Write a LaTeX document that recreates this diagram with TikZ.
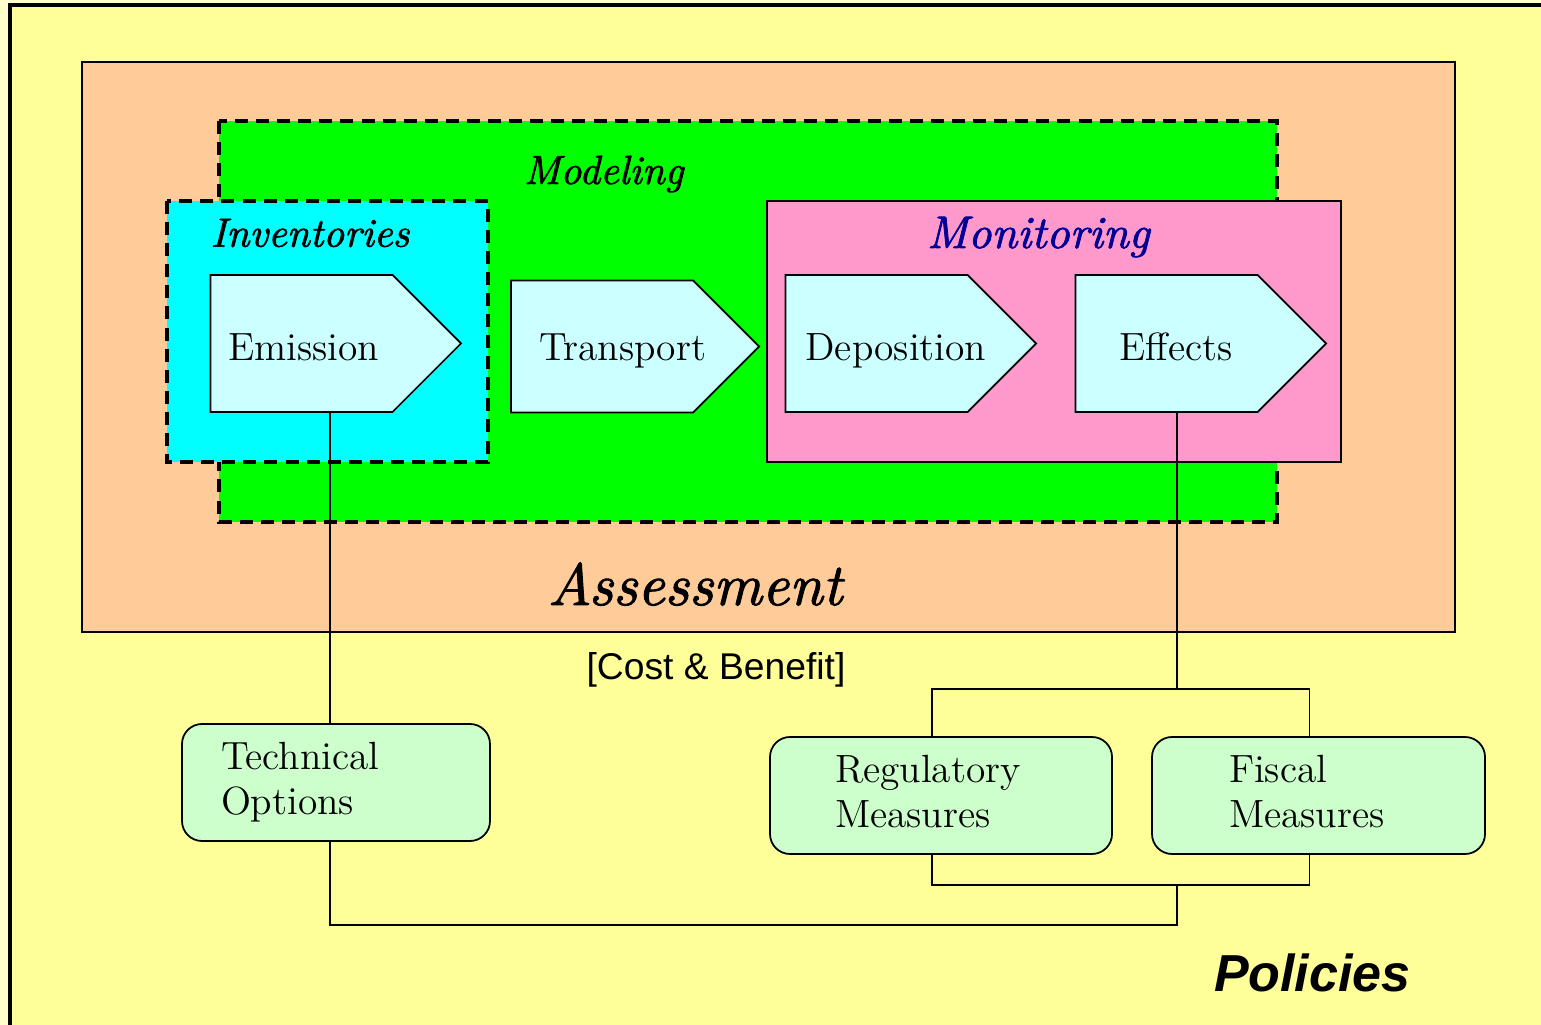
\documentclass[tikz,border=0pt]{standalone}
\usepackage{fontspec}
\newfontfamily\arialfont{Liberation Sans}
\newfontface\titleface{lmroman10-italic.otf}[FakeBold=1.6]
\usetikzlibrary{shapes.symbols,positioning}

\definecolor{paleyellow}{HTML}{FFFFCC}
\definecolor{policyyellow}{HTML}{FFFF99}
\definecolor{assesspeach}{HTML}{FFCC99}
\definecolor{modelgreen}{HTML}{00FF00}
\definecolor{inventcyan}{HTML}{00FFFF}
\definecolor{monitorpink}{HTML}{FF99CC}
\definecolor{stagefill}{HTML}{CCFFFF}
\definecolor{policyfill}{HTML}{CCFFCC}
\definecolor{darkblue}{HTML}{000099}

\begin{document}
\begin{tikzpicture}[x=0.1mm,y=-0.1mm,
    stage/.style={shape=signal, signal to=east, signal pointer angle=90, draw, line width=0.5pt,
        fill=stagefill, text width=1.82cm, inner xsep=0pt, inner ysep=0pt, minimum height=1.37cm,
        align=left, text height=3.9mm, text depth=0.5mm, font=\fontsize{11.2}{13}\selectfont},
    policy/.style={draw, line width=0.5pt, fill=policyfill, rounded corners=2mm, minimum height=1.17cm,
        inner ysep=0pt, align=left, font=\fontsize{11.2}{12.8}\selectfont},
    region/.style={draw, line width=0.5pt},
    dashedregion/.style={draw, line width=1.3pt, dash pattern=on 3.7pt off 2.3pt},
    title/.style={anchor=base, font=\titleface\fontsize{11.6}{14}\selectfont},
    link/.style={draw, line width=0.45pt}]
    \useasboundingbox (0,0) rectangle (1541,1025);
    \clip (0,0) rectangle (1541,1025);
    \fill[paleyellow] (0,0) rectangle (1541,1025);
    % containers
    \draw[fill=policyyellow, line width=1pt] (10,5) rectangle (1570,1050);
    \draw[region, fill=assesspeach] (82,62) rectangle (1455,632);
    \draw[dashedregion, fill=modelgreen] (219,121) rectangle (1277,522);
    \draw[dashedregion, fill=inventcyan] (167,201) rectangle (488,462);
    \draw[region, fill=monitorpink] (767,201) rectangle (1341,462);
    % titles
    \node[title] (modeling) at (603.7,184) {Modeling};
    \node[title] (inventories) at (310,246.7) {Inventories};
    \node[title, text=darkblue, font=\titleface\fontsize{13}{15}\selectfont] (monitoring) at (1038.4,248) {Monitoring};
    \node[title, font=\titleface\fontsize{16.9}{20}\selectfont] (assessment) at (695,605) {Assessment};
    \node[anchor=base, font=\arialfont\fontsize{10.6}{12}\selectfont] (costbenefit) at (716,680) {[Cost \& Benefit]};
    \node[anchor=base, font=\arialfont\bfseries\itshape\fontsize{14.8}{17}\selectfont] (policies) at (1312.3,991.7) {Policies};
    % stages
    \node[stage] (emission) at (301.5,343.5) {\hspace*{1.8mm}\mbox{Emission}};
    \node[stage, minimum height=1.32cm, text depth=1.1mm] (transport) at (602,346.5) {\hspace*{2.8mm}\mbox{Transport}};
    \node[stage] (deposition) at (876.5,343.5) {\hspace*{2mm}\mbox{Deposition}};
    \node[stage] (effects) at (1166.5,343.5) {\hspace*{4.4mm}\mbox{Effects}};
    % policies
    \node[policy, text width=2.3cm, inner xsep=3.9mm] (technical) at (336,782.5) {Technical\\Options};
    \node[policy, text width=2.12cm, inner xsep=6.5mm, text depth=5.3mm] (regulatory) at (941,795.5) {Regulatory\\Measures};
    \node[policy, text width=1.79cm, inner xsep=7.7mm, text depth=5.3mm] (fiscal) at (1318.5,795.5) {Fiscal\\Measures};
    % junctions
    \coordinate (techtop) at ([xshift=-0.6mm]technical.north);
    \coordinate (topjoin) at (1177,689);
    \coordinate (botjoin) at (1177,885);
    \path[link] (emission.south -| techtop) -- (techtop);
    \path[link] (effects.south -| topjoin) -- (topjoin);
    \path[link] ([xshift=-0.9mm]regulatory.north) |- (topjoin) -| ([xshift=-0.9mm]fiscal.north);
    \path[link] ([xshift=-0.9mm]regulatory.south) |- (botjoin) -| ([xshift=-0.9mm]fiscal.south);
    \path[link] ([xshift=-0.6mm]technical.south) -- ++(0,83) -| (botjoin);
\end{tikzpicture}
\end{document}
